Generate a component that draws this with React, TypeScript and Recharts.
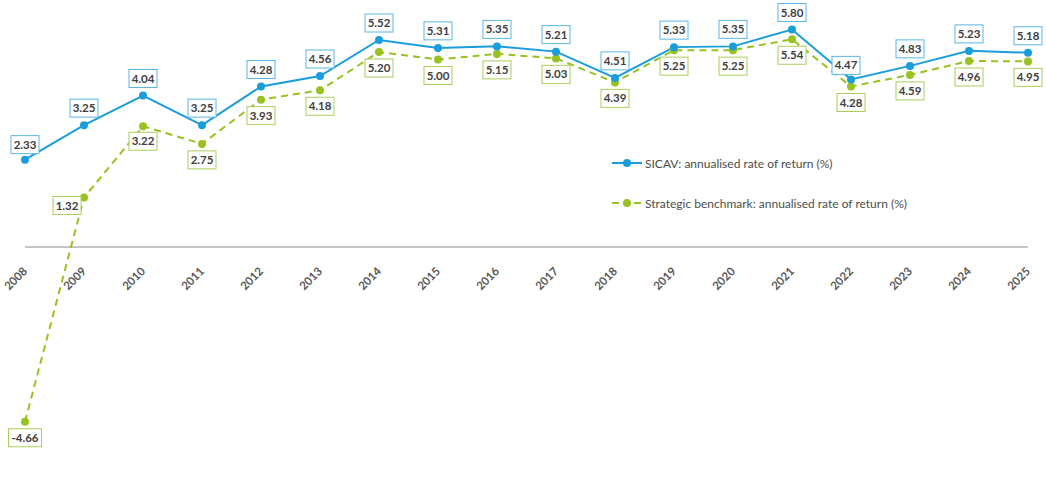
// SICAV vs strategic benchmark: annualised rate of return, 2008–2025

import { LineChart, Line, XAxis, YAxis, ReferenceLine, LabelList, Legend } from 'recharts'

const YEARS = [
  '2008', '2009', '2010', '2011', '2012', '2013', '2014', '2015', '2016',
  '2017', '2018', '2019', '2020', '2021', '2022', '2023', '2024', '2025',
]
const SICAV = [
  2.33, 3.25, 4.04, 3.25, 4.28, 4.56, 5.52, 5.31, 5.35,
  5.21, 4.51, 5.33, 5.35, 5.80, 4.47, 4.83, 5.23, 5.18,
]
const BENCHMARK = [
  -4.66, 1.32, 3.22, 2.75, 3.93, 4.18, 5.20, 5.00, 5.15,
  5.03, 4.39, 5.25, 5.25, 5.54, 4.28, 4.59, 4.96, 4.95,
]
const SERIES_NAMES = [
  'SICAV: annualised rate of return (%)',
  'Strategic benchmark: annualised rate of return (%)',
]

const data = YEARS.map((year, i) => ({ year, sicav: SICAV[i], benchmark: BENCHMARK[i] }))

const W = 1046
const H = 482
const X_AXIS_H = 30
const MARGIN = { top: 3.25, right: 18, bottom: 10, left: 25 }
const Y_MIN = -5.2
const Y_MAX = 6.5
const PLOT_H = H - MARGIN.top - MARGIN.bottom - X_AXIS_H
const ZERO_Y = MARGIN.top + (Y_MAX / (Y_MAX - Y_MIN)) * PLOT_H

const BLUE = '#1a9ddb'
const BLUE_BOX = '#5bb6e6'
const GREEN = '#98c21f'
const GREEN_BOX = '#abcd5c'
const TEXT = '#404040'
const FONT = 'Lato, "Open Sans", sans-serif'

function ValueBox({ x, y, value, color, dx, dy }: {
  x: number; y: number; value: number; color: string; dx: number; dy: number
}) {
  const txt = value.toFixed(2)
  const w = txt.length * 5 + 8
  const h = 18
  const cx = x + dx
  const cy = y + dy
  return (
    <g>
      <rect x={cx - w / 2} y={cy - h / 2} width={w} height={h} fill="#fff" stroke={color} strokeWidth={1} />
      <text
        x={cx} y={cy + 4}
        textAnchor="middle"
        fill={TEXT}
        style={{ fontFamily: FONT, fontSize: 11.5, fontWeight: 700 }}
      >
        {txt}
      </text>
    </g>
  )
}

// label offsets: SICAV above, benchmark below, a few nudged like the original
function sicavLabel(p: any) {
  let dx = 0, dy = -17
  if (p.index === 0) dy = -15
  if (p.index === 14) { dx = -5; dy = -14 }
  return <ValueBox x={p.x} y={p.y} value={p.value} color={BLUE_BOX} dx={dx} dy={dy} />
}

function benchLabel(p: any) {
  let dx = 0, dy = 16
  if (p.index === 1) { dx = -17; dy = 8 }
  if (p.index === 2) dy = 15
  return <ValueBox x={p.x} y={p.y} value={p.value} color={GREEN_BOX} dx={dx} dy={dy} />
}

// year labels sit just under the zero line, not at the foot of the plot
function YearTick({ x, payload }: any) {
  return (
    <text
      transform={`translate(${x + 3},${ZERO_Y + 25}) rotate(-45)`}
      textAnchor="end"
      fill="#595959"
      style={{ fontFamily: FONT, fontSize: 11.5, fontWeight: 700 }}
    >
      {payload.value}
    </text>
  )
}

function LegendBox({ payload }: any) {
  const items = [...(payload ?? [])].sort((a: any) => (a.dataKey === 'sicav' ? -1 : 1))
  return (
    <div style={{ fontFamily: FONT, fontSize: 12, color: '#4d4d4d' }}>
      {items.map((it: any) => {
        const dashed = it.dataKey === 'benchmark'
        return (
          <div key={it.dataKey} style={{ display: 'flex', alignItems: 'center', height: 20, marginBottom: 20 }}>
            <svg width={33} height={12} style={{ flex: 'none' }}>
              {dashed ? (
                <>
                  <line x1={0} y1={6} x2={7} y2={6} stroke={it.color} strokeWidth={2} />
                  <line x1={22} y1={6} x2={29} y2={6} stroke={it.color} strokeWidth={2} />
                </>
              ) : (
                <line x1={0} y1={6} x2={30} y2={6} stroke={it.color} strokeWidth={2} />
              )}
              <circle cx={15} cy={6} r={4} fill={it.color} />
            </svg>
            <span>{it.value}</span>
          </div>
        )
      })}
    </div>
  )
}

export default function App() {
  return (
    <div style={{ position: 'absolute', left: 0, top: 0, width: W, height: H, background: '#fff' }}>
      <LineChart width={W} height={H} data={data} margin={MARGIN}>
        <XAxis
          dataKey="year"
          height={X_AXIS_H}
          axisLine={false}
          tickLine={false}
          interval={0}
          tick={<YearTick />}
        />
        <YAxis hide domain={[Y_MIN, Y_MAX]} />
        <ReferenceLine y={0} stroke="#8c8c8c" strokeWidth={1} />
        <Legend
          layout="vertical"
          align="center"
          verticalAlign="middle"
          content={<LegendBox />}
          wrapperStyle={{ position: 'absolute', left: 612, top: 153, width: 340 }}
        />
        <Line
          dataKey="benchmark"
          name={SERIES_NAMES[1]}
          stroke={GREEN}
          strokeWidth={2}
          strokeDasharray="7 5"
          dot={{ r: 4, fill: GREEN, stroke: GREEN, strokeWidth: 0 }}
          activeDot={false}
          isAnimationActive={false}
        >
          <LabelList dataKey="benchmark" content={benchLabel} />
        </Line>
        <Line
          dataKey="sicav"
          name={SERIES_NAMES[0]}
          stroke={BLUE}
          strokeWidth={2}
          dot={{ r: 4, fill: BLUE, stroke: BLUE, strokeWidth: 0 }}
          activeDot={false}
          isAnimationActive={false}
        >
          <LabelList dataKey="sicav" content={sicavLabel} />
        </Line>
      </LineChart>
    </div>
  )
}
